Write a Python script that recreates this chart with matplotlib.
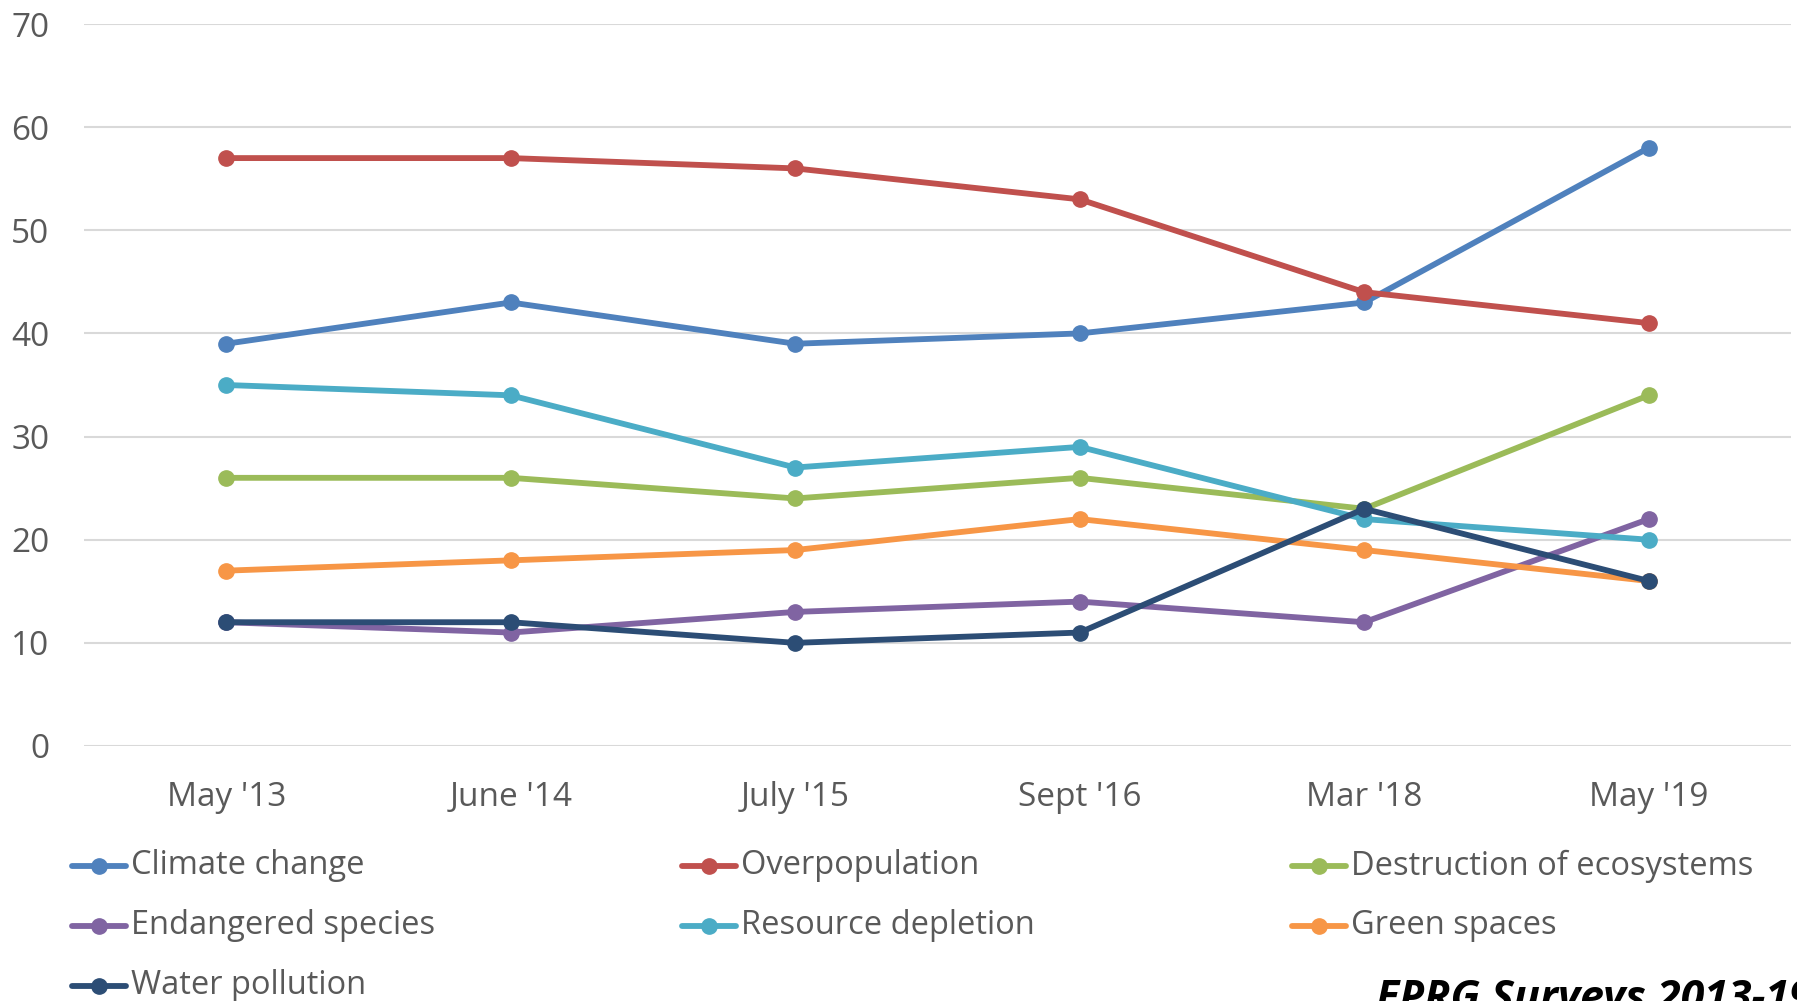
import matplotlib
matplotlib.use("Agg")
import matplotlib.pyplot as plt
from matplotlib.lines import Line2D

plt.rcParams['font.family'] = ['Open Sans', 'DejaVu Sans']

# survey waves and the share naming each issue
waves = ["May '13", "June '14", "July '15", "Sept '16", "Mar '18", "May '19"]
climate_change = [39, 43, 39, 40, 43, 58]
overpopulation = [57, 57, 56, 53, 44, 41]
ecosystems = [26, 26, 24, 26, 23, 34]
endangered = [12, 11, 13, 14, 12, 22]
resources = [35, 34, 27, 29, 22, 20]
green_spaces = [17, 18, 19, 22, 19, 16]
water_pollution = [12, 12, 10, 11, 23, 16]

series = [
    ("Climate change", climate_change, "#4F81BD"),
    ("Overpopulation", overpopulation, "#C0504D"),
    ("Destruction of ecosystems", ecosystems, "#9BBB59"),
    ("Endangered species", endangered, "#8064A2"),
    ("Resource depletion", resources, "#4BACC6"),
    ("Green spaces", green_spaces, "#F79646"),
    ("Water pollution", water_pollution, "#2C4D75"),
]

W, H = 1797, 1001
fig = plt.figure(figsize=(W / 100, H / 100), dpi=100)
ax = fig.add_axes([84 / W, 1 - 746 / H, (1791 - 84) / W, (746 - 24) / H])

x = list(range(len(waves)))
for name, vals, col in series:
    ax.plot(x, vals, color=col, lw=4.2, marker="o", ms=11, solid_capstyle="round",
            label=name, zorder=3)

ax.set_xlim(-0.5, len(waves) - 0.5)
ax.set_ylim(0, 70)
ax.set_yticks(range(0, 71, 10))
ax.set_xticks(x)
ax.set_xticklabels(waves)
ax.grid(axis="y", color="#D9D9D9", lw=1.5)
ax.set_axisbelow(True)
for s in ax.spines.values():
    s.set_visible(False)
ax.tick_params(length=0, labelsize=24, colors="#595959")
ax.tick_params(axis="x", pad=25)
ax.tick_params(axis="y", pad=25)

# legend laid out row by row like the original
col_x = [72, 682, 1292]
row_y = [866, 926, 986]
for i, (name, vals, col) in enumerate(series):
    r, c = divmod(i, 3)
    x0 = col_x[c]
    y0 = 1 - row_y[r] / H
    fig.add_artist(Line2D([x0 / W, (x0 + 54) / W], [y0, y0], color=col, lw=4.2,
                          solid_capstyle="round", transform=fig.transFigure))
    fig.add_artist(Line2D([(x0 + 27) / W], [y0], color=col, marker="o", ms=11,
                          transform=fig.transFigure))
    fig.text((x0 + 59) / W, y0, name, fontsize=23.5, color="#595959", va="center")

fig.text(1376 / W, 1 - 1011 / H, "EPRG Surveys 2013-19", fontsize=31,
         fontweight="bold", fontstyle="italic", color="black", va="baseline")

fig.savefig("out.png", dpi=100)
